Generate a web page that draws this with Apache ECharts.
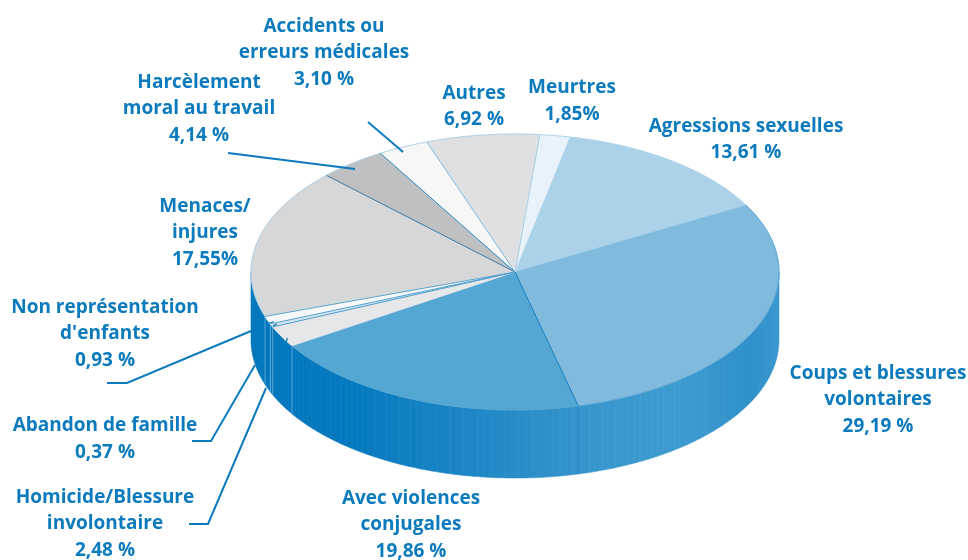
<!DOCTYPE html>
<html><head><meta charset="utf-8">
<style>html,body{margin:0;padding:0;background:#fff}#c{width:968px;height:560px}</style>
<script src="https://cdn.jsdelivr.net/npm/echarts@6/dist/echarts.min.js"></script>
</head><body><div id="c"></div>
<script>
// Data, clockwise from the top of the pie
const categories = ["Meurtres","Agressions sexuelles","Coups et blessures\nvolontaires","Avec violences\nconjugales","Homicide/Blessure\ninvolontaire","Abandon de famille","Non représentation\nd'enfants","Menaces/\ninjures","Harcèlement\nmoral au travail","Accidents ou\nerreurs médicales","Autres"];
const values = [1.85,13.61,29.19,19.86,2.48,0.37,0.93,17.55,4.14,3.10,6.92];
const valueLabels = ["1,85%","13,61 %","29,19 %","19,86 %","2,48 %","0,37 %","0,93 %","17,55%","4,14 %","3,10 %","6,92 %"];

// Styles and layout
const colors = ["#e8f2fa","#abd2e9","#80badd","#55a7d3","#e6e7e9","#d5e5f0","#f5f7f9","#d6d7d9","#bfc0c2","#f7f7f8","#dfe0e2"];
const edgeColors = ["#a9d0e8",null,null,"#1a80c0",null,"#4f9ecd","#4f9ecd","#5ea5d0","#3f7ea8","#2585c2","#86bcdc"];
const rimColors = ["#a9d0e8","#abd2e9","#4ea3d3","#55a7d3","#e6e7e9","#d5e5f0","#f5f7f9","#a6cde5","#a6cde5","#a6cde5","#a6cde5"];
const labelCentres = [[572,101],[746,139.5],[878,400],[411,525],[105,524],[105,439],[105,334],[205,233],[199,109],[324,53],[474,106.5]];
const leaders = [null,null,null,null,
  [[189,524],[208,524],[266,388]],
  [[192,441],[211,441],[255,365]],
  [[107,383],[127,383],[251,331]],
  null,
  [[228,153],[355,169]],
  [[368,122],[403,152]],
  null];
const leaderTips = [null,null,null,null,[[286,342],[287.5,338]],[[273,326],[277,324]],[[268,323.5],[274,321.5]],null,null,null,null];
const stripeAlpha = [0.025,0,0.015,0.035,0,0.01,0.025,0.005,0,0.03,0.01,0];

const CX=515, CY=272, RX=264, RY=138, DEPTH=68, START=5.4, TXT="#0b7bbd";
const total = values.reduce((a,b)=>a+b,0);
const toRad = d=>d*Math.PI/180;
const rim = (deg,dy=0)=>[CX+RX*Math.sin(toRad(deg)), CY-RY*Math.cos(toRad(deg))+dy];
const wallFill = new echarts.graphic.LinearGradient(CX-RX,0,CX+RX,0,[
  {offset:0,color:"#0377bd"},{offset:.2,color:"#0579bf"},{offset:.42,color:"#1c86c5"},
  {offset:.62,color:"#3594cc"},{offset:.8,color:"#3d9bd0"},{offset:.95,color:"#2f90ca"},{offset:1,color:"#3a98cf"}],true);

function renderItem(params,api){
  const i=params.dataIndex;
  let before=0; for(let k=0;k<i;k++) before+=values[k];
  const a0=START+before/total*360, a1=a0+api.value(0)/total*360;
  const kids=[];
  // top face
  const arc=[];
  for(let d=a0;d<a1;d+=0.5) arc.push(rim(d));
  arc.push(rim(a1));
  kids.push({type:"polygon",z2:10,shape:{points:[[CX,CY]].concat(arc)},style:{fill:colors[i],stroke:colors[i],lineWidth:.5,lineJoin:"round"}});
  kids.push({type:"polyline",z2:11,shape:{points:arc},style:{fill:null,stroke:rimColors[i],lineWidth:.9}});
  if(edgeColors[i]){
    const p=rim(a0);
    kids.push({type:"line",z2:11,shape:{x1:CX,y1:CY,x2:p[0],y2:p[1]},style:{stroke:edgeColors[i],lineWidth:1}});
  }
  // side wall: only the front half of the rim is visible
  const w0=Math.max(a0,90), w1=Math.min(a1,270);
  if(w1>w0){
    const up=[],down=[];
    for(let d=w0;d<w1;d+=0.5){up.push(rim(d));down.unshift(rim(d,DEPTH));}
    up.push(rim(w1));down.unshift(rim(w1,DEPTH));
    kids.push({type:"polygon",z2:1,shape:{points:up.concat(down)},style:{fill:wallFill,stroke:wallFill,lineWidth:.6}});
    let n=Math.floor(w0*2);
    for(let d=Math.ceil(w0*2)/2;d<w1;d+=0.5,n++){
      const al=stripeAlpha[n%stripeAlpha.length];
      if(!al) continue;
      const e=Math.min(d+0.5,w1);
      kids.push({type:"polygon",z2:2,shape:{points:[rim(d),rim(e),rim(e,DEPTH),rim(d,DEPTH)]},style:{fill:"rgba(255,255,255,"+al+")"}});
    }
    const p=rim(w0),q=rim(w0,DEPTH);
    if(a0>=90) kids.push({type:"line",z2:3,shape:{x1:p[0],y1:p[1],x2:q[0],y2:q[1]},style:{stroke:i>=4?"rgba(255,255,255,.32)":"rgba(10,110,180,.5)",lineWidth:1}});
  }
  // leader line
  if(leaders[i]) kids.push({type:"polyline",z2:12,shape:{points:leaders[i]},style:{fill:null,stroke:TXT,lineWidth:2}});
  if(leaderTips[i]) kids.push({type:"polyline",z2:12,shape:{points:leaderTips[i]},style:{fill:null,stroke:TXT,lineWidth:1.3}});
  // label
  const c=labelCentres[i];
  kids.push({type:"text",z2:20,x:c[0],y:c[1],style:{text:categories[i]+"\n"+valueLabels[i],fill:TXT,font:"700 19px 'Open Sans'",lineHeight:26.5,align:"center",verticalAlign:"middle"}});
  return {type:"group",children:kids};
}
const chart=echarts.init(document.getElementById("c"),null,{renderer:"canvas"});
chart.setOption({animation:false,backgroundColor:"#fff",
  series:[{type:"custom",coordinateSystem:"none",renderItem,data:values,silent:true}]});
</script></body></html>
